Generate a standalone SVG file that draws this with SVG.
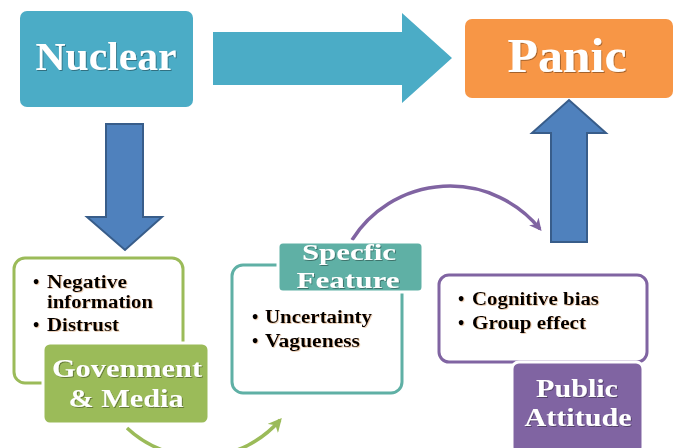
<svg xmlns="http://www.w3.org/2000/svg" width="678" height="448" viewBox="0 0 678 448">
  <defs>
    <filter id="shadow" x="-10%" y="-20%" width="130%" height="150%">
      <feDropShadow dx="1" dy="1" stdDeviation="0.6" flood-color="#000" flood-opacity="0.35"/>
    </filter>
    <filter id="bshadow" x="-10%" y="-20%" width="130%" height="150%">
      <feDropShadow dx="0.8" dy="0.8" stdDeviation="0.5" flood-color="#c07020" flood-opacity="0.4"/>
    </filter>
    <marker id="headGreen" viewBox="0 0 10 10" refX="8" refY="5" markerWidth="4" markerHeight="4" orient="auto">
      <path d="M0,0 L10,5 L0,10 L3,5 Z" fill="#9BBB59"/>
    </marker>
    <marker id="headPurple" viewBox="0 0 10 10" refX="8" refY="5" markerWidth="3.5" markerHeight="3.5" orient="auto">
      <path d="M0,0 L10,5 L0,10 L3,5 Z" fill="#8064A2"/>
    </marker>
  </defs>
  <style>
    .title { font-family: "Liberation Serif", "Times New Roman", serif; font-weight: bold; fill: #ffffff; text-anchor: middle; filter: url(#shadow); }
    .bullet { font-family: "Liberation Serif", "Times New Roman", serif; font-weight: bold; font-size: 18px; fill: #000000; filter: url(#bshadow); }
    .outline { fill: #ffffff; stroke-width: 3; }
    .label { stroke: #ffffff; stroke-width: 3; }
    .blockArrow { fill: #4F81BD; stroke: #385D8A; stroke-width: 2; }
  </style>

  <!-- connectors -->
  <g id="connectors">
    <polygon id="nuclear-to-panic" points="213,32 402,32 402,13 452,58 402,103 402,85 213,85" fill="#4BACC6"/>
    <polygon id="nuclear-to-media" class="blockArrow" points="106,124 143,124 143,217 162,217 125,250 87,217 106,217"/>
    <polygon id="attitude-to-panic" class="blockArrow" points="551,242 587,242 587,133 606,133 569,100 532,133 551,133"/>
    <path id="media-to-feature" d="M127,428 A106,106 0 0 0 280,420" fill="none" stroke="#9BBB59" stroke-width="3.5" marker-end="url(#headGreen)"/>
    <path id="feature-to-attitude" d="M352,240 A116,116 0 0 1 540,229" fill="none" stroke="#8064A2" stroke-width="3.5" marker-end="url(#headPurple)"/>
  </g>

  <!-- Nuclear -->
  <g id="nuclear">
    <rect x="20" y="11" width="173" height="96" rx="7" fill="#4BACC6"/>
    <text class="title" x="106" y="70" font-size="40" textLength="141" lengthAdjust="spacingAndGlyphs">Nuclear</text>
  </g>

  <!-- Panic -->
  <g id="panic">
    <rect x="465" y="19" width="208" height="79" rx="7" fill="#F79646"/>
    <text class="title" x="567" y="72" font-size="48" textLength="119" lengthAdjust="spacingAndGlyphs">Panic</text>
  </g>

  <!-- Govenment & Media -->
  <g id="media">
    <rect class="outline" x="14" y="258" width="169" height="125" rx="11" stroke="#9BBB59"/>
    <text class="bullet" x="33" y="288">•</text>
    <text class="bullet" x="47" y="288" textLength="80" lengthAdjust="spacingAndGlyphs">Negative</text>
    <text class="bullet" x="47" y="308" textLength="106" lengthAdjust="spacingAndGlyphs">information</text>
    <text class="bullet" x="33" y="331">•</text>
    <text class="bullet" x="47" y="331" textLength="72" lengthAdjust="spacingAndGlyphs">Distrust</text>
    <rect class="label" x="43" y="343" width="166" height="81" rx="7" fill="#9BBB59"/>
    <text class="title" x="127" y="377" font-size="26" textLength="150" lengthAdjust="spacingAndGlyphs">Govenment</text>
    <text class="title" x="126" y="407" font-size="26" textLength="115" lengthAdjust="spacingAndGlyphs">&amp; Media</text>
  </g>

  <!-- Specfic Feature -->
  <g id="feature">
    <rect class="outline" x="232" y="265" width="170" height="128" rx="11" stroke="#5FB0A5"/>
    <text class="bullet" x="252" y="323">•</text>
    <text class="bullet" x="265" y="323" textLength="107" lengthAdjust="spacingAndGlyphs">Uncertainty</text>
    <text class="bullet" x="252" y="347">•</text>
    <text class="bullet" x="265" y="347" textLength="95" lengthAdjust="spacingAndGlyphs">Vagueness</text>
    <rect class="label" x="278" y="242" width="145" height="50" rx="5" fill="#5FB0A5"/>
    <text class="title" x="349" y="260" font-size="23" textLength="94" lengthAdjust="spacingAndGlyphs">Specfic</text>
    <text class="title" x="348" y="288" font-size="23" textLength="103" lengthAdjust="spacingAndGlyphs">Feature</text>
  </g>

  <!-- Public Attitude -->
  <g id="attitude">
    <rect class="outline" x="439" y="275" width="208" height="87" rx="10" stroke="#8064A2"/>
    <text class="bullet" x="458" y="305">•</text>
    <text class="bullet" x="472" y="305" textLength="127" lengthAdjust="spacingAndGlyphs">Cognitive bias</text>
    <text class="bullet" x="458" y="329">•</text>
    <text class="bullet" x="472" y="329" textLength="114" lengthAdjust="spacingAndGlyphs">Group effect</text>
    <rect class="label" x="512" y="362" width="131" height="92" rx="7" fill="#8064A2"/>
    <text class="title" x="577" y="397" font-size="26" textLength="82" lengthAdjust="spacingAndGlyphs">Public</text>
    <text class="title" x="578" y="426" font-size="26" textLength="107" lengthAdjust="spacingAndGlyphs">Attitude</text>
  </g>
</svg>
